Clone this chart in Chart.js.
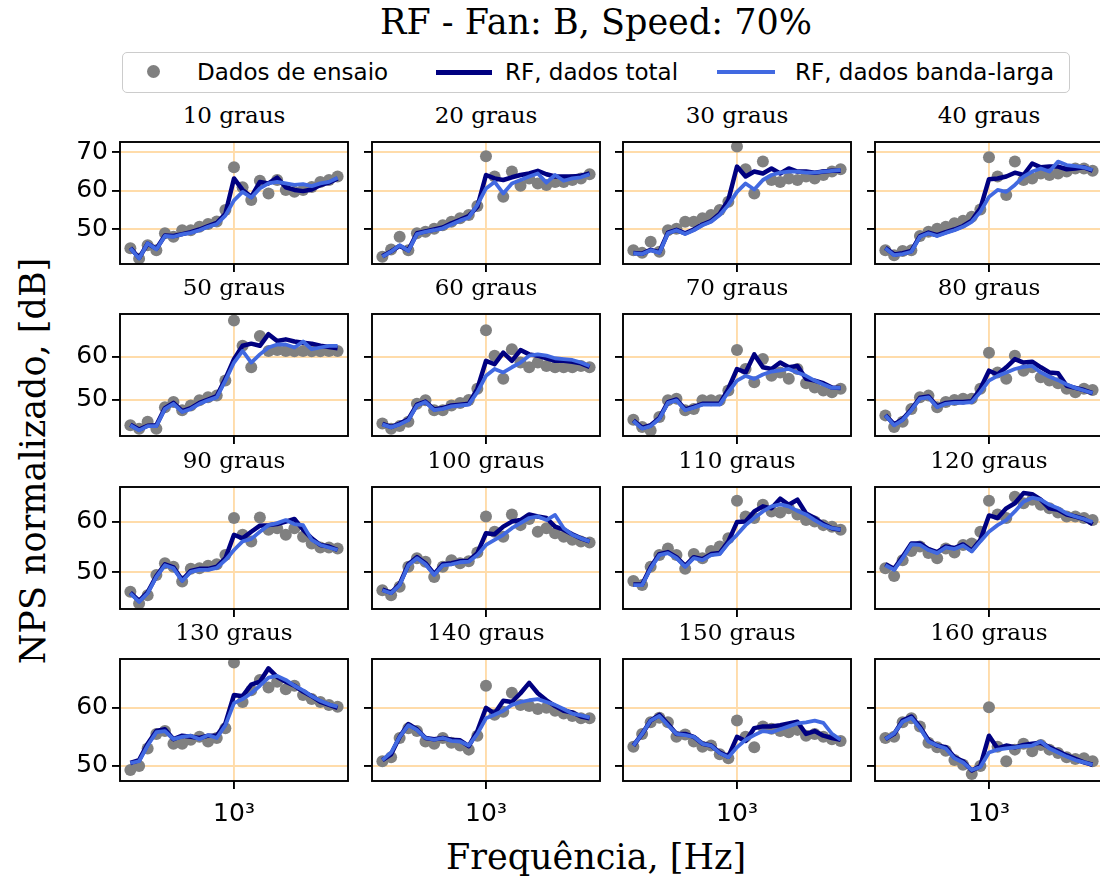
<!DOCTYPE html>
<html>
<head>
<meta charset="utf-8">
<script src="https://cdn.jsdelivr.net/npm/chart.js@4.4.1/dist/chart.umd.min.js"></script>
<style>
  html, body { margin: 0; padding: 0; background: #fff; }
  body { width: 1100px; height: 878px; position: relative; overflow: hidden; }
  .txt { position: absolute; white-space: nowrap; color: #000; line-height: 1; }
  .serif { font-family: 'DejaVu Serif', serif; }
  .sans { font-family: 'DejaVu Sans', sans-serif; }
  .panel { position: absolute; }
  #legend { position: absolute; left: 122px; top: 52px; width: 948px; height: 41px;
            box-sizing: border-box; border: 1.5px solid #cccccc; border-radius: 5px; background: #fff; }
  #legend .txt { font-size: 23px; top: 8px; }
  .mk { position: absolute; }
</style>
</head>
<body>
<div class="txt serif" style="left:596px;top:5px;font-size:35px;transform:translateX(-50%)">RF - Fan: B, Speed: 70%</div>

<div id="legend">
  <span class="mk" style="left:24px;top:12px;width:13px;height:13px;border-radius:50%;background:#808080"></span>
  <span class="txt sans" style="left:74px">Dados de ensaio</span>
  <span class="mk" style="left:313px;top:17px;width:56px;height:4.5px;background:#000080"></span>
  <span class="txt sans" style="left:382px">RF, dados total</span>
  <span class="mk" style="left:594px;top:17px;width:58px;height:4px;background:#4169e1"></span>
  <span class="txt sans" style="left:672px">RF, dados banda-larga</span>
</div>

<div class="txt serif" style="left:596px;top:840px;font-size:35px;transform:translateX(-50%)">Frequência, [Hz]</div>
<div class="txt serif" style="left:33px;top:461px;font-size:35px;transform:translate(-50%,-50%) rotate(-90deg)">NPS normalizado, [dB]</div>

<script>
// 1/6-octave band centres, Hz
const FREQS = [250, 281, 315, 354, 397, 445, 500, 561, 630, 707, 794, 891, 1000,
               1122, 1260, 1414, 1587, 1782, 2000, 2245, 2520, 2828, 3175, 3564, 4000];
const ANGLES = ['10 graus', '20 graus', '30 graus', '40 graus',
                '50 graus', '60 graus', '70 graus', '80 graus',
                '90 graus', '100 graus', '110 graus', '120 graus',
                '130 graus', '140 graus', '150 graus', '160 graus'];

const X_MIN = 217.6, X_MAX = 4597;
const X_TICKS = [1000];
const ROW_Y_MIN = [40.9, 41.5, 42.8, 47.4];
const ROW_Y_MAX = [72.7, 69.9, 66.8, 68.4];
const ROW_Y_TICKS = [[50, 60, 70], [50, 60], [50, 60], [50, 60]];

// measured spectra (grey dots)
const DADOS_ENSAIO = [
  [45.0,42.3,45.8,44.5,48.9,48.0,49.7,49.7,50.6,51.3,52.0,55.0,66.1,60.9,57.6,62.6,59.3,62.8,60.2,59.7,60.2,61.0,62.3,62.8,63.7],
  [42.8,44.7,48.0,44.5,48.9,49.3,50.1,51.0,51.9,52.8,53.7,56.0,69.0,63.7,58.4,65.0,61.3,63.2,61.9,61.5,62.3,62.3,62.8,63.2,64.3],
  [44.5,43.8,46.7,44.1,49.7,50.1,51.9,51.9,52.8,53.7,55.0,57.1,71.5,65.6,59.3,67.6,62.8,62.3,63.2,62.8,63.7,63.2,64.1,65.0,65.6],
  [44.5,43.2,44.3,44.5,48.2,49.3,50.1,50.6,51.5,52.2,53.2,55.1,68.7,63.7,58.9,67.6,62.8,63.2,64.5,64.1,64.5,65.0,65.8,65.8,65.2],
  [44.0,43.2,44.8,43.2,48.2,49.4,47.5,48.6,49.8,50.5,50.9,54.4,68.4,62.5,57.5,64.8,61.3,61.5,61.3,61.2,61.3,61.2,61.2,61.3,61.3],
  [44.4,43.2,43.8,44.8,49.0,49.8,47.5,47.5,48.6,49.2,49.9,52.5,66.1,60.2,54.8,61.7,58.6,57.5,58.6,57.8,57.5,57.5,57.5,57.8,57.5],
  [45.3,43.6,42.8,45.9,49.8,50.2,47.5,47.8,49.8,49.8,49.8,52.1,61.5,57.1,54.0,59.4,55.5,56.3,54.8,57.1,53.8,52.8,52.1,51.7,52.5],
  [46.3,43.6,44.8,47.8,50.5,50.9,48.2,49.4,49.9,50.2,50.2,52.5,60.9,56.3,54.8,60.2,56.7,57.5,55.2,54.4,53.8,52.5,51.7,52.5,52.2],
  [46.2,43.9,45.5,49.5,51.8,51.1,48.2,50.7,50.8,51.3,51.6,53.4,60.7,57.4,56.1,60.8,58.4,58.7,57.4,58.7,57.0,55.7,54.9,54.9,54.7],
  [46.5,45.5,47.2,51.1,52.8,52.1,49.1,51.1,52.4,51.8,52.2,53.9,61.0,58.0,57.0,61.4,59.3,60.5,58.0,58.7,57.7,57.0,56.4,56.1,55.9],
  [48.3,47.5,51.1,53.4,54.7,53.4,50.7,53.6,52.8,54.2,55.1,56.7,64.1,61.0,60.7,63.3,62.0,61.8,62.6,61.4,60.3,60.0,59.3,59.0,58.4],
  [50.8,49.3,52.4,54.2,55.1,53.8,52.8,54.7,53.9,55.4,55.7,58.0,64.1,61.4,60.7,64.9,63.6,64.3,63.3,62.6,61.8,61.0,61.0,60.7,60.3],
  [49.3,50.0,53.0,55.5,56.0,53.8,53.8,54.5,55.0,54.2,54.8,56.5,67.8,61.0,63.0,64.8,63.5,64.5,63.2,63.8,62.2,61.5,61.0,60.5,60.2],
  [50.8,51.5,54.8,56.5,56.0,54.2,53.8,54.8,54.0,53.5,52.8,55.2,63.8,58.8,59.3,62.6,60.5,60.3,59.8,60.0,59.5,59.0,58.6,58.2,58.2],
  [53.3,55.5,57.5,58.3,57.5,55.0,55.4,54.2,53.3,53.5,52.0,51.3,57.8,55.0,53.2,56.8,56.4,56.0,55.8,56.2,55.2,55.5,55.0,54.6,54.3],
  [54.8,55.0,57.5,58.2,56.8,54.0,53.2,52.6,51.0,50.2,48.6,50.0,60.1,53.3,50.8,52.8,53.8,52.5,53.6,52.8,52.2,51.5,51.2,51.3,50.8]
];

// RF prediction, total data (navy)
const RF_TOTAL = [
  [45.1,42.5,46.2,44.9,48.3,48.2,48.7,49.2,49.9,50.8,51.6,54.0,63.2,60.2,58.4,62.3,61.9,63.4,60.9,60.2,59.9,60.3,61.5,62.1,63.2],
  [42.9,44.2,45.6,44.5,48.9,49.4,49.9,50.4,51.5,52.4,53.4,55.8,64.1,63.2,62.8,63.5,64.1,64.5,65.2,64.3,63.7,63.7,63.7,63.9,64.5],
  [43.8,43.6,44.6,44.0,49.1,49.8,48.9,49.9,51.2,52.1,54.0,57.6,66.3,63.7,65.0,64.5,65.8,64.5,65.8,65.0,65.0,64.7,65.0,65.2,65.2],
  [45.1,43.4,43.7,44.3,48.2,49.1,48.4,49.2,49.9,50.8,52.2,55.4,63.0,63.2,63.7,64.7,64.1,67.1,66.1,66.3,66.3,65.6,65.8,66.1,65.2],
  [44.1,43.0,43.9,44.0,48.0,49.2,47.3,48.0,49.2,50.0,50.8,54.8,59.4,62.5,63.0,62.5,65.2,63.6,64.0,63.5,63.2,63.0,62.5,62.2,61.9],
  [44.3,43.6,44.4,45.4,48.8,49.5,47.7,48.0,48.6,48.8,49.0,52.5,59.0,58.2,60.9,59.0,61.5,60.5,60.2,59.6,59.0,59.0,58.8,58.4,57.6],
  [45.1,43.4,44.0,45.7,49.4,50.0,47.7,48.3,49.0,49.0,49.0,52.5,57.1,56.3,60.5,57.5,57.1,58.6,57.5,57.8,54.8,54.4,53.8,52.8,52.7],
  [46.4,44.2,45.4,47.7,50.4,50.7,48.4,49.2,49.4,49.4,49.6,52.5,56.7,55.8,57.5,59.4,58.6,58.8,57.5,56.3,56.1,53.2,52.7,52.2,51.5],
  [46.0,44.4,46.1,49.3,51.6,51.0,48.5,50.3,50.7,50.7,51.1,52.8,57.4,56.7,58.0,59.2,59.3,59.5,60.0,60.5,58.4,56.7,55.4,55.1,54.4],
  [46.6,46.0,47.7,51.6,53.0,51.8,49.7,51.6,51.8,52.2,52.3,53.8,57.7,57.5,59.0,60.0,60.3,61.4,61.0,60.7,59.0,58.4,57.5,56.7,56.1],
  [47.6,47.6,51.0,53.6,54.0,53.0,51.3,53.0,52.6,53.6,53.8,56.1,59.9,60.0,62.0,63.0,62.6,64.5,63.3,64.3,61.6,60.7,59.5,58.7,58.4],
  [51.6,50.7,53.1,55.7,55.7,54.6,54.0,55.1,54.8,55.5,54.3,56.4,61.2,60.7,62.6,63.6,65.6,65.4,64.3,62.6,62.3,61.4,61.0,60.5,59.5],
  [50.5,51.0,53.8,56.0,56.3,54.6,55.2,55.0,54.8,55.2,55.2,57.3,62.2,62.0,64.0,64.5,66.8,65.3,64.5,63.8,62.8,62.0,61.0,60.5,60.0],
  [51.0,52.0,55.0,57.2,56.3,54.8,54.6,54.8,54.5,54.4,53.4,56.0,60.0,59.0,61.2,61.0,62.5,64.3,62.5,61.3,60.3,59.5,59.2,58.5,58.2],
  [53.5,55.5,57.8,58.8,57.2,55.5,55.5,55.0,53.8,53.5,52.3,51.6,55.0,54.3,56.5,56.8,56.8,57.0,57.3,57.6,55.5,56.0,55.2,54.8,54.5],
  [54.6,55.5,57.8,58.5,56.7,54.4,53.5,53.2,51.5,50.8,49.2,50.0,55.2,53.0,53.5,53.2,53.6,53.8,54.0,53.2,52.5,51.8,51.2,50.6,50.2]
];

// RF prediction, broadband data (royal blue)
const RF_BANDA_LARGA = [
  [45.0,42.3,46.3,44.7,48.2,48.0,48.6,49.0,49.7,50.6,51.3,53.5,57.5,59.7,58.2,60.6,61.9,62.3,61.9,61.5,61.7,61.2,61.9,62.3,63.4],
  [42.8,44.1,45.8,44.3,48.7,49.3,49.7,50.2,51.2,52.2,53.0,56.3,60.6,62.3,59.3,61.9,62.8,63.7,64.5,62.1,64.1,62.6,63.2,63.5,64.3],
  [43.7,43.5,44.5,43.8,48.9,49.7,48.7,49.7,51.0,51.9,53.7,56.3,59.7,61.9,60.3,62.8,64.1,64.7,65.0,65.0,64.7,64.7,65.0,65.2,65.4],
  [45.0,43.2,43.5,44.1,48.0,48.9,48.2,49.0,49.7,50.6,51.9,54.5,58.4,60.2,59.7,61.5,63.7,65.0,65.8,65.0,67.6,66.7,66.4,66.1,65.4],
  [44.0,42.8,43.8,43.8,47.8,49.0,47.1,47.8,49.0,49.8,50.5,54.4,58.6,61.3,58.6,60.5,62.1,62.8,62.8,62.1,63.5,61.7,62.1,62.5,62.5],
  [44.2,43.5,44.2,45.2,48.6,49.4,47.5,47.8,48.4,48.6,48.8,51.7,55.5,57.1,56.3,57.5,58.6,60.2,60.5,60.2,59.6,59.4,59.2,58.6,57.8],
  [45.0,43.2,43.8,45.5,49.2,49.8,47.5,48.1,48.8,48.8,48.8,51.7,54.4,55.5,54.8,55.8,56.5,56.8,57.1,56.3,55.5,54.4,53.5,52.7,52.7],
  [46.3,44.0,45.2,47.5,50.2,50.5,48.2,49.0,49.2,49.2,49.4,51.7,54.4,55.5,56.3,57.1,57.6,57.8,56.3,55.3,54.5,53.5,52.7,52.1,51.5],
  [45.9,44.2,45.9,49.1,51.4,50.8,48.3,50.1,50.5,50.5,50.9,52.4,54.4,56.1,56.6,58.0,59.3,59.7,60.3,59.5,59.3,56.4,55.4,54.9,54.4],
  [46.5,45.9,47.5,51.4,52.8,51.6,49.5,51.4,51.6,52.0,52.1,53.4,55.4,56.4,57.4,58.7,59.7,60.7,61.0,60.3,61.3,58.7,57.4,56.7,56.1],
  [47.5,47.5,50.8,53.4,53.8,52.8,51.1,52.8,52.4,53.4,53.6,55.7,57.4,59.3,60.7,62.0,63.0,63.4,63.0,62.1,61.4,60.3,59.3,58.7,58.4],
  [51.4,50.5,52.8,55.5,55.4,54.4,53.8,54.9,54.6,55.3,54.1,56.1,58.0,59.3,60.3,62.0,63.9,64.7,64.3,63.3,62.6,61.6,61.0,60.5,59.9],
  [50.5,50.8,53.5,55.8,56.0,54.6,55.0,55.2,54.6,55.3,54.8,57.0,60.8,61.5,62.5,63.8,65.2,65.5,64.8,63.8,63.0,62.0,61.2,60.6,60.2],
  [51.0,52.3,55.0,57.0,56.2,54.8,54.5,54.8,54.3,54.2,53.5,55.5,58.2,58.8,59.5,60.5,61.0,61.3,61.5,61.0,60.5,59.8,59.0,58.7,58.3],
  [53.5,55.5,57.8,58.6,57.0,55.5,55.3,55.0,53.8,53.5,52.2,51.5,53.2,54.5,55.3,56.0,55.8,56.3,56.8,57.3,57.5,57.8,57.4,55.5,54.5],
  [54.6,55.6,57.6,58.3,56.5,54.2,53.5,53.0,51.3,50.6,49.3,49.8,52.3,52.8,53.0,53.2,53.4,53.5,54.2,53.0,52.3,51.6,51.0,50.6,50.2]
];

// layout of the 4x4 grid of axes (page pixels)
const COL_LEFT = [120, 372, 623, 875];
const ROW_TOP  = [142, 314, 487, 659];
const AX_W = 228, AX_H = 122;
const PAD_L = 80, PAD_T = 30, PAD_R = 12, PAD_B = 56;

const GREY = '#808080', NAVY = '#000080', BLUE = '#4169e1', GRID = '#ffdcaa';

Chart.defaults.font.family = "'DejaVu Sans', sans-serif";
Chart.defaults.color = '#000';

const framePlugin = {
  id: 'frame',
  afterDraw(chart) {
    const { ctx, chartArea: a } = chart;
    ctx.save();
    ctx.strokeStyle = '#000';
    ctx.lineWidth = 1.9;
    ctx.strokeRect(a.left, a.top, a.right - a.left, a.bottom - a.top);
    ctx.restore();
  }
};

const pts = arr => arr.map((v, k) => ({ x: FREQS[k], y: v }));

ANGLES.forEach((name, i) => {
  const r = Math.floor(i / 4), c = i % 4;
  const left = COL_LEFT[c], top = ROW_TOP[r];

  const t = document.createElement('div');
  t.className = 'txt serif';
  t.style.cssText = `left:${left + AX_W / 2}px;top:${top - 38}px;font-size:23px;transform:translateX(-50%)`;
  t.textContent = name;
  document.body.appendChild(t);

  const box = document.createElement('div');
  box.className = 'panel';
  box.style.left = (left - PAD_L) + 'px';
  box.style.top = (top - PAD_T) + 'px';
  const cv = document.createElement('canvas');
  cv.width = PAD_L + AX_W + PAD_R;
  cv.height = PAD_T + AX_H + PAD_B;
  box.appendChild(cv);
  document.body.appendChild(box);

  new Chart(cv, {
    type: 'line',
    data: {
      datasets: [
        { label: 'Dados de ensaio', data: pts(DADOS_ENSAIO[i]), showLine: false,
          pointRadius: 6, pointBackgroundColor: GREY, pointBorderWidth: 0, order: 3 },
        { label: 'RF, dados total', data: pts(RF_TOTAL[i]), borderColor: NAVY,
          borderWidth: 4.5, pointRadius: 0, tension: 0, borderJoinStyle: 'round', order: 2 },
        { label: 'RF, dados banda-larga', data: pts(RF_BANDA_LARGA[i]), borderColor: BLUE,
          borderWidth: 3.8, pointRadius: 0, tension: 0, borderJoinStyle: 'round', order: 1 }
      ]
    },
    options: {
      responsive: false,
      animation: false,
      events: [],
      layout: { padding: { top: PAD_T, right: PAD_R, left: 0, bottom: 0 } },
      plugins: { legend: { display: false }, tooltip: { enabled: false } },
      scales: {
        x: {
          type: 'logarithmic', min: X_MIN, max: X_MAX,
          afterBuildTicks: s => { s.ticks = X_TICKS.map(v => ({ value: v })); },
          afterFit: s => { s.height = PAD_B; },
          ticks: { display: r === 3, callback: () => '10³', font: { size: 25 },
                   padding: 10, maxRotation: 0, autoSkip: false },
          grid: { color: GRID, lineWidth: 1.9, tickColor: '#000', tickLength: 8, tickWidth: 1.9 },
          border: { display: false }
        },
        y: {
          min: ROW_Y_MIN[r], max: ROW_Y_MAX[r],
          afterBuildTicks: s => { s.ticks = ROW_Y_TICKS[r].map(v => ({ value: v })); },
          afterFit: s => { s.width = PAD_L; },
          ticks: { display: c === 0, font: { size: 25 }, padding: 4 },
          grid: { color: GRID, lineWidth: 1.9, tickColor: '#000', tickLength: 8, tickWidth: 1.9 },
          border: { display: false }
        }
      }
    },
    plugins: [framePlugin]
  });
});
</script>
</body>
</html>
